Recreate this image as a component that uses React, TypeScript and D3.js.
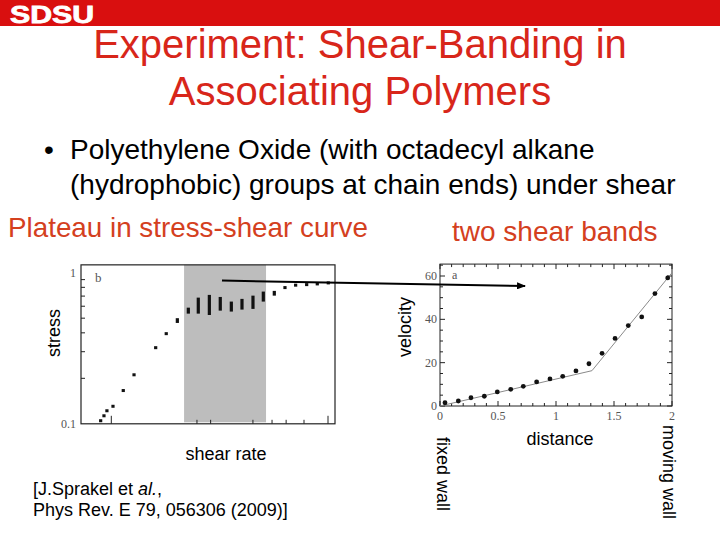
import React from 'react';
import * as d3 from 'd3';

// ---- Left plot: stress vs shear rate (log-log) ----
const shearRate = [0.0204, 0.023, 0.0256, 0.0319, 0.0463, 0.0684, 0.15, 0.22, 0.329, 0.49, 0.703, 1.05, 1.56, 2.33, 3.43, 5.11, 7.43, 11.07, 16.3, 24.0, 35.8, 52.6, 78.4];
const stressLo = [0.1048, 0.113, 0.122, 0.1306, 0.166, 0.211, 0.319, 0.395, 0.465, 0.536, 0.536, 0.525, 0.561, 0.553, 0.57, 0.576, 0.644, 0.705, 0.797, 0.827, 0.834, 0.843, 0.856];
const stressHi = [0.1048, 0.113, 0.122, 0.1306, 0.166, 0.211, 0.319, 0.395, 0.5, 0.587, 0.684, 0.713, 0.691, 0.644, 0.671, 0.705, 0.75, 0.758, 0.797, 0.827, 0.834, 0.843, 0.856];
const shearTicks = [0.03, 0.67, 1.1, 5.1, 10.2, 17, 32.5, 77.6];
const shearTickMajor = [true, false, false, false, false, false, false, true];
const stressMinorTicks = [0.2, 0.3, 0.4, 0.5, 0.6, 0.7, 0.8, 0.9];
const stressTickLabels = [0.1, 1];
const plateauBand = [0.42, 8.2];

// ---- Right plot: velocity vs distance ----
const distance = [0.043, 0.158, 0.267, 0.382, 0.494, 0.61, 0.718, 0.833, 0.948, 1.058, 1.172, 1.284, 1.397, 1.509, 1.623, 1.739, 1.853, 1.963];
const velocity = [1.5, 2.3, 3.8, 4.5, 6.5, 7.7, 9.1, 11.1, 12.5, 13.7, 16.2, 19.5, 24.3, 31.2, 37.1, 41.1, 51.9, 59.1];
const fitDistance = [0, 1.31, 2.0];
const fitVelocity = [0, 16.3, 61.5];
const distanceTickLabels = [0, 0.5, 1, 1.5, 2];
const velocityTickLabels = [0, 20, 40, 60];

const SANS = "'Liberation Sans', Arial, sans-serif";
const SERIF = "'Liberation Serif', 'Times New Roman', serif";
const RED = '#d8261a';
const ORANGE = '#d4401e';

export default function App() {
  // left scales
  const xs = d3.scaleLog().domain([0.01, 100]).range([81, 335]);
  const ys = d3.scaleLog().domain([0.1, 1]).range([423.8, 272.7]);
  const lTop = ys(1.127);
  const lBot = ys(0.1);
  // right scales
  const xr = d3.scaleLinear().domain([0, 2]).range([440, 672]);
  const yr = d3.scaleLinear().domain([0, 60]).range([406, 276]);
  const rTop = yr(65.5);

  const fitLine = d3.line<number>().x((d) => xr(d)).y((_, i) => yr(fitVelocity[i]))(fitDistance) || '';
  const distTicks = d3.range(0, 2.0001, 0.1);
  const velTicks = d3.range(0, 65.1, 5);

  const arrowStart = [xs(1.66), ys(0.887)];
  const arrowEnd = [xr(0.733), yr(55.4)];

  return (
    <div style={{ position: 'absolute', left: 0, top: 0 }}>
      <svg width={720} height={540} style={{ display: 'block', background: '#fff' }}>
        <defs>
          <marker id="arr" markerUnits="userSpaceOnUse" markerWidth={9} markerHeight={7} refX={8} refY={3.5} orient="auto">
            <path d="M0,0 L9,3.5 L0,7 Z" fill="#000" />
          </marker>
        </defs>
        {/* header bar */}
        <rect x={0} y={0} width={720} height={26} fill="#d90f0f" />
        <text x={10} y={23} fill="#fff" fontFamily={SANS} fontWeight={900} fontSize={23} textLength={84} lengthAdjust="spacingAndGlyphs" stroke="#fff" strokeWidth={0.8}>SDSU</text>

        {/* title */}
        <text x={360} y={58} textAnchor="middle" fontFamily={SANS} fontSize={40} fill={RED}>Experiment: Shear-Banding in</text>
        <text x={360} y={105} textAnchor="middle" fontFamily={SANS} fontSize={40} fill={RED}>Associating Polymers</text>

        {/* bullet */}
        <text x={44} y={159} fontFamily={SANS} fontSize={28} fill="#000">•</text>
        <text x={70} y={159} fontFamily={SANS} fontSize={28} fill="#000">Polyethylene Oxide (with octadecyl alkane</text>
        <text x={70} y={194} fontFamily={SANS} fontSize={28} fill="#000">(hydrophobic) groups at chain ends) under shear</text>

        <text x={8} y={237} fontFamily={SANS} fontSize={27.8} fill={ORANGE}>Plateau in stress-shear curve</text>
        <text x={452} y={241} fontFamily={SANS} fontSize={28} fill={ORANGE}>two shear bands</text>

        {/* ---------- left plot ---------- */}
        <rect x={xs(plateauBand[0])} y={lTop} width={xs(plateauBand[1]) - xs(plateauBand[0])} height={lBot - lTop - 1.5} fill="#bdbdbd" />
        <rect x={xs(0.01)} y={lTop} width={xs(100) - xs(0.01)} height={lBot - lTop} fill="none" stroke="#222" strokeWidth={1.2} />
        {stressMinorTicks.map((v) => (
          <line key={'st' + v} x1={xs(0.01)} x2={xs(0.01) + 4} y1={ys(v)} y2={ys(v)} stroke="#222" strokeWidth={1} />
        ))}
        {shearTicks.map((v, i) => (
          <line key={'sh' + v} x1={xs(v)} x2={xs(v)} y1={lBot} y2={lBot - (shearTickMajor[i] ? 8 : 4)} stroke="#222" strokeWidth={1} />
        ))}
        {stressTickLabels.map((v) => (
          <text key={'sl' + v} x={76} y={ys(v) + 4} textAnchor="end" fontFamily={SERIF} fontSize={12} fill="#555">{String(v)}</text>
        ))}
        <text x={95} y={282} fontFamily={SERIF} fontSize={13} fill="#555">b</text>
        {shearRate.map((r, i) => {
          const yHi = ys(stressHi[i]);
          const yLo = ys(stressLo[i]);
          const h = Math.max(3, yLo - yHi);
          const cy = (yHi + yLo) / 2;
          return <rect key={'p' + i} x={xs(r) - 1.6} y={cy - h / 2} width={3.2} height={h} fill="#111" />;
        })}

        {/* ---------- right plot ---------- */}
        <rect x={xr(0)} y={rTop} width={xr(2) - xr(0)} height={yr(0) - rTop} fill="none" stroke="#222" strokeWidth={1} />
        {distTicks.map((v, i) => {
          const major = i % 5 === 0;
          const len = major ? 5 : 3;
          return (
            <g key={'dt' + i}>
              <line x1={xr(v)} x2={xr(v)} y1={yr(0)} y2={yr(0) - len} stroke="#222" strokeWidth={1} />
              <line x1={xr(v)} x2={xr(v)} y1={rTop} y2={rTop + len} stroke="#222" strokeWidth={1} />
            </g>
          );
        })}
        {velTicks.map((v, i) => {
          const major = v % 20 === 0;
          const len = major ? 5 : 3;
          return (
            <g key={'vt' + i}>
              <line x1={xr(0)} x2={xr(0) + len} y1={yr(v)} y2={yr(v)} stroke="#222" strokeWidth={1} />
              <line x1={xr(2)} x2={xr(2) - len} y1={yr(v)} y2={yr(v)} stroke="#222" strokeWidth={1} />
            </g>
          );
        })}
        {distanceTickLabels.map((v) => (
          <text key={'dl' + v} x={xr(v)} y={420} textAnchor="middle" fontFamily={SERIF} fontSize={12} fill="#555">{String(v)}</text>
        ))}
        {velocityTickLabels.map((v) => (
          <text key={'vl' + v} x={437} y={yr(v) + 4} textAnchor="end" fontFamily={SERIF} fontSize={12} fill="#555">{String(v)}</text>
        ))}
        <text x={452} y={279} fontFamily={SERIF} fontSize={12} fill="#555">a</text>
        <path d={fitLine} fill="none" stroke="#8a8a8a" strokeWidth={1} />
        {distance.map((d, i) => (
          <circle key={'c' + i} cx={xr(d)} cy={yr(velocity[i])} r={2.4} fill="#111" />
        ))}

        {/* arrow */}
        <line x1={arrowStart[0]} y1={arrowStart[1]} x2={arrowEnd[0]} y2={arrowEnd[1]} stroke="#000" strokeWidth={2} markerEnd="url(#arr)" />

        {/* axis labels */}
        <text transform="translate(60,333) rotate(-90)" textAnchor="middle" fontFamily={SANS} fontSize={18} fill="#000">stress</text>
        <text transform="translate(411,327) rotate(-90)" textAnchor="middle" fontFamily={SANS} fontSize={18} fill="#000">velocity</text>
        <text x={226} y={460} textAnchor="middle" fontFamily={SANS} fontSize={18} fill="#000">shear rate</text>
        <text x={560} y={445} textAnchor="middle" fontFamily={SANS} fontSize={18} fill="#000">distance</text>
        <text transform="translate(437,474) rotate(90)" textAnchor="middle" fontFamily={SANS} fontSize={18} fill="#000">fixed wall</text>
        <text transform="translate(663,472) rotate(90)" textAnchor="middle" fontFamily={SANS} fontSize={18} fill="#000">moving wall</text>

        {/* citation */}
        <text x={33} y={495} fontFamily={SANS} fontSize={18} fill="#000">
          [J.Sprakel et <tspan fontStyle="italic">al.</tspan>,
        </text>
        <text x={33} y={516} fontFamily={SANS} fontSize={18} fill="#000">Phys Rev. E 79, 056306 (2009)]</text>
      </svg>
    </div>
  );
}
